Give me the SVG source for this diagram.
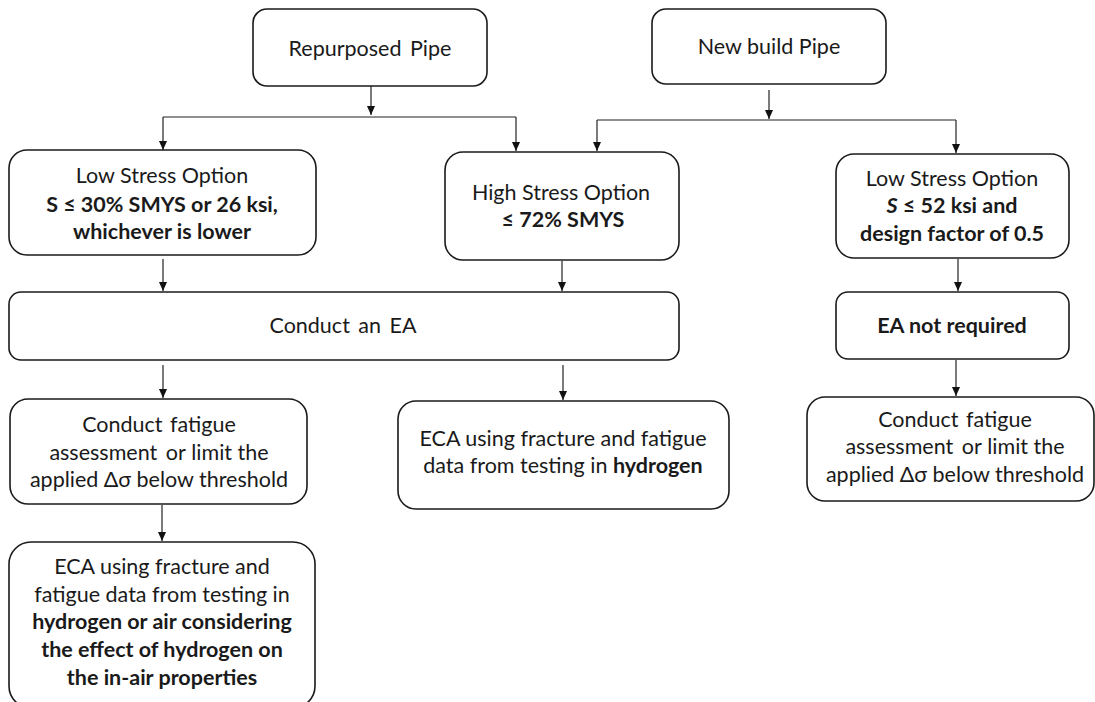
<svg xmlns="http://www.w3.org/2000/svg" width="1095" height="702" viewBox="0 0 1095 702">
<style>
.box{fill:#fff;stroke:#1a1a1a;stroke-width:1.6}
.t{font-family:Lato,"Open Sans",sans-serif;font-size:21.5px;fill:#1a1a1a;text-anchor:middle}
.b{font-weight:bold}
.c{stroke:#222;stroke-width:1.2;fill:none}
</style>
<defs>
<marker id="ah" markerWidth="10" markerHeight="10" refX="9" refY="5" orient="auto" markerUnits="userSpaceOnUse">
<path d="M0,1 L9,5 L0,9 Z" fill="#111"/>
</marker>
</defs>
<rect width="1095" height="702" fill="#fff"/>
<g id="connectors">
<path class="c" d="M371,86 V115" marker-end="url(#ah)"/>
<path class="c" d="M163,117 H516"/>
<path class="c" d="M163,117 V150" marker-end="url(#ah)"/>
<path class="c" d="M516,117 V151" marker-end="url(#ah)"/>
<path class="c" d="M769,90 V119" marker-end="url(#ah)"/>
<path class="c" d="M597,120 H956"/>
<path class="c" d="M597,120 V151" marker-end="url(#ah)"/>
<path class="c" d="M956,120 V153" marker-end="url(#ah)"/>
<path class="c" d="M163,259 V291" marker-end="url(#ah)"/>
<path class="c" d="M562,261 V291" marker-end="url(#ah)"/>
<path class="c" d="M958,259 V291" marker-end="url(#ah)"/>
<path class="c" d="M163,365 V398" marker-end="url(#ah)"/>
<path class="c" d="M563,365 V400" marker-end="url(#ah)"/>
<path class="c" d="M956,360 V396" marker-end="url(#ah)"/>
<path class="c" d="M162,505 V541" marker-end="url(#ah)"/>
</g>
<g id="repurposed">
<rect class="box" x="253" y="9" width="234" height="77" rx="14"/>
<text class="t" x="370" y="56" word-spacing="3">Repurposed Pipe</text>
</g>
<g id="newbuild">
<rect class="box" x="652" y="9" width="234" height="75" rx="14"/>
<text class="t" x="769" y="54">New build Pipe</text>
</g>
<g id="lowstress-left">
<rect class="box" x="9" y="150" width="307" height="105" rx="18"/>
<text class="t" x="162" y="183">Low Stress Option</text>
<text class="t b" x="162" y="212">S ≤ 30% SMYS or 26 ksi,</text>
<text class="t b" x="162" y="239">whichever is lower</text>
</g>
<g id="highstress">
<rect class="box" x="445" y="152" width="234" height="108" rx="18"/>
<text class="t" x="561" y="200">High Stress Option</text>
<text class="t b" x="563" y="227">≤ 72% SMYS</text>
</g>
<g id="lowstress-right">
<rect class="box" x="836" y="154" width="233" height="104" rx="18"/>
<text class="t" x="952" y="186">Low Stress Option</text>
<text class="t b" x="952" y="213"><tspan font-style="italic">S</tspan> ≤ 52 ksi and</text>
<text class="t b" x="952" y="241">design factor of 0.5</text>
</g>
<g id="conduct-ea">
<rect class="box" x="9" y="292" width="670" height="68" rx="12"/>
<text class="t" x="343" y="333" word-spacing="3">Conduct an EA</text>
</g>
<g id="ea-not-required">
<rect class="box" x="836" y="292" width="233" height="67" rx="12"/>
<text class="t b" x="952" y="333">EA not required</text>
</g>
<g id="fatigue-left">
<rect class="box" x="10" y="399" width="297" height="105" rx="18"/>
<text class="t" x="159" y="432" word-spacing="2">Conduct fatigue</text>
<text class="t" x="159" y="460"><tspan word-spacing="3">assessment or</tspan> limit the</text>
<text class="t" x="159" y="487">applied Δσ below threshold</text>
</g>
<g id="eca-hydrogen">
<rect class="box" x="398" y="401" width="331" height="108" rx="18"/>
<text class="t" x="563" y="446">ECA using fracture and fatigue</text>
<text class="t" x="563" y="473">data from testing in <tspan class="b">hydrogen</tspan></text>
</g>
<g id="fatigue-right">
<rect class="box" x="807" y="397" width="287" height="104" rx="18"/>
<text class="t" x="955" y="427" word-spacing="2">Conduct fatigue</text>
<text class="t" x="955" y="454"><tspan word-spacing="3">assessment or</tspan> limit the</text>
<text class="t" x="955" y="482">applied Δσ below threshold</text>
</g>
<g id="eca-air">
<rect class="box" x="9" y="542" width="306" height="166" rx="22"/>
<text class="t" x="162" y="574">ECA using fracture and</text>
<text class="t" x="162" y="602">fatigue data from testing in</text>
<text class="t b" x="162" y="629">hydrogen or air considering</text>
<text class="t b" x="162" y="657">the effect of hydrogen on</text>
<text class="t b" x="162" y="685">the in-air properties</text>
</g>
</svg>
